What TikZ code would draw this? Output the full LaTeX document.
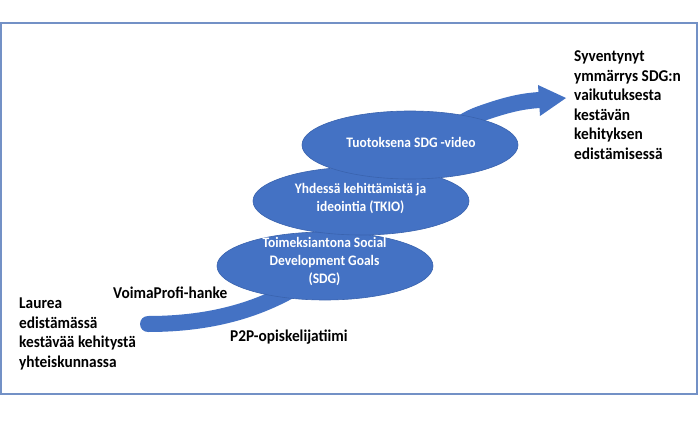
\documentclass[tikz,border=0pt]{standalone}
\usepackage{fontspec}
\setmainfont{Carlito}
\newfontfamily\condfont{Carlito}[FakeStretch=0.93]
\usetikzlibrary{shapes.geometric}
\definecolor{ofblue}{HTML}{4472C4}
\definecolor{ofedge}{HTML}{3A63AE}
\definecolor{framec}{HTML}{7391C6}
\tikzset{
  blob/.style={ellipse, fill=ofblue, draw=ofedge, line width=0.6pt, minimum width=216pt, minimum height=68pt, inner sep=0pt},
  intext/.style={text=white, font=\condfont\bfseries\fontsize{14.5}{18}\selectfont, align=center, inner sep=0pt},
  outtext/.style={text=black, font=\condfont\bfseries\fontsize{16.5}{19.5}\selectfont, align=left, inner sep=0pt},
  flowband/.style={draw=ofblue, line width=16pt, line cap=round},
}
\begin{document}
\begin{tikzpicture}[x=1pt,y=-1pt]
\useasboundingbox[fill=white] (0,0) rectangle (700,430);
\draw[framec, line width=2pt] (1,23.5) rectangle (697,393.5);
% arrow
\coordinate (as) at (148,324);
\coordinate (ae) at (540,100);
\coordinate (hu) at (538,85);
\coordinate (ht) at (566,98);
\coordinate (hl) at (540,116);
\draw[flowband] (as) .. controls (215,324) and (262,308) .. (300,285)
   .. controls (370,240) and (420,135) .. (480,114)
   .. controls (505,105) and (522,101) .. (ae);
\fill[ofblue] (hu) -- (ht) -- (hl) -- cycle;
% ellipses
\node[blob] (e1) at (325,266) {};
\node[blob] (e2) at (361,201) {};
\node[blob] (e3) at (410,145) {};
\node[intext] (t1) at (324.5,262) {Toimeksiantona Social\\Development Goals\\(SDG)};
\node[intext] (t2) at (360.5,199) {Yhdessä kehittämistä ja\\ideointia (TKIO)};
\node[intext] (t3) at (411,142) {Tuotoksena SDG -video};
% outside texts
\node[outtext, anchor=west] (lt) at (19,334) {Laurea\\edistämässä\\kestävää kehitystä\\yhteiskunnassa};
\node[outtext, anchor=west] (rt) at (574,105) {Syventynyt\\ymmärrys SDG:n\\vaikutuksesta\\kestävän\\kehityksen\\edistämisessä};
\node[outtext, anchor=west] (vp) at (113,293) {VoimaProfi-hanke};
\node[outtext, anchor=west] (pp) at (230,337) {P2P-opiskelijatiimi};
\end{tikzpicture}
\end{document}
